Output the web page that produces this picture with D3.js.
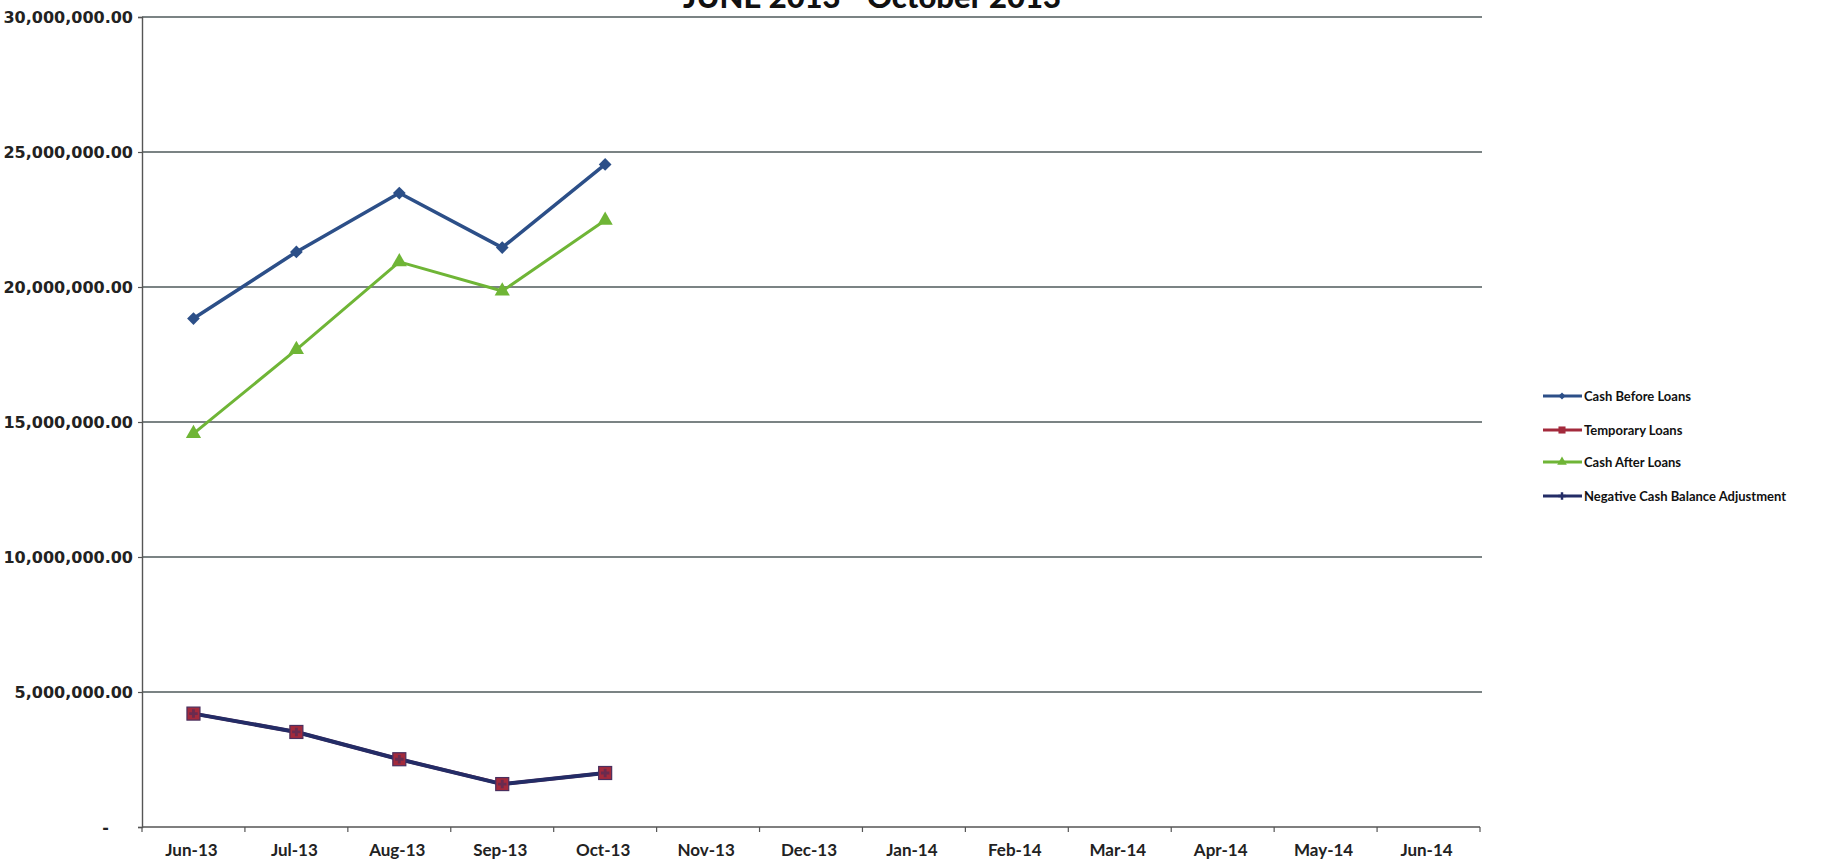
<!DOCTYPE html>
<html><head><meta charset="utf-8">
<script src="https://cdn.jsdelivr.net/npm/d3@7"></script>
<style>
html,body{margin:0;padding:0;background:#fff;}
svg{display:block;}
</style></head>
<body>
<svg id="chart" width="1835" height="864"></svg>
<script>
const title = "JUNE 2013 - October 2013";
const categories = ["Jun-13","Jul-13","Aug-13","Sep-13","Oct-13","Nov-13","Dec-13","Jan-14","Feb-14","Mar-14","Apr-14","May-14","Jun-14"];
const yTicks = [0, 5000000, 10000000, 15000000, 20000000, 25000000, 30000000];
const cashBeforeLoans = [18830000, 21300000, 23480000, 21460000, 24540000];
const temporaryLoans = [4200000, 3520000, 2510000, 1590000, 2000000];
const cashAfterLoans = [14570000, 17680000, 20930000, 19850000, 22470000];
const negativeCashBalanceAdjustment = [4200000, 3520000, 2510000, 1590000, 2000000];
const seriesNames = ["Cash Before Loans","Temporary Loans","Cash After Loans","Negative Cash Balance Adjustment"];

const svg = d3.select("#chart");
const plotLeft = 142, plotRight = 1480, plotTop = 17, plotBottom = 827;

const x = d3.scaleBand().domain(categories).range([plotLeft, plotRight]);
const y = d3.scaleLinear().domain([0, 30000000]).range([plotBottom, plotTop]);
const fmt = v => v === 0 ? "-" : d3.format(",.2f")(v);

// gridlines
svg.append("g").selectAll("line").data(yTicks.filter(d => d > 0)).join("line")
  .attr("x1", plotLeft).attr("x2", plotRight + 2)
  .attr("y1", d => y(d)).attr("y2", d => y(d))
  .attr("stroke", "#4f5a5b").attr("stroke-width", 1.5);

// y axis
const yAxis = d3.axisLeft(y).tickValues(yTicks).tickFormat(fmt).tickSize(4).tickPadding(5);
const gy = svg.append("g").attr("transform", `translate(${plotLeft},0)`).call(yAxis);
gy.select(".domain").attr("stroke", "#555").attr("stroke-width", 1.4);
gy.selectAll(".tick line").attr("stroke", "#555").attr("stroke-width", 1.2);
gy.selectAll(".tick text").attr("font-family", "'DejaVu Sans', sans-serif").attr("font-size", 16)
  .attr("font-weight", "bold").attr("fill", "#222");
gy.selectAll(".tick text").filter(d => d === 0).attr("dx", -24);

// x axis
const gx = svg.append("g").attr("transform", `translate(0,${plotBottom})`);
gx.append("line").attr("x1", plotLeft).attr("x2", plotRight).attr("y1", 0).attr("y2", 0)
  .attr("stroke", "#555").attr("stroke-width", 1.4);
const boundaries = categories.map(c => x(c)).concat([x(categories[categories.length-1]) + x.bandwidth()]);
gx.selectAll("line.tk").data(boundaries).join("line").attr("class","tk")
  .attr("x1", d => d).attr("x2", d => d).attr("y1", 0).attr("y2", 5)
  .attr("stroke", "#555").attr("stroke-width", 1.2);
gx.selectAll("text").data(categories).join("text")
  .attr("x", d => x(d) + x.bandwidth()/2 - 2).attr("y", 29)
  .attr("text-anchor", "middle")
  .attr("font-family", "Lato, sans-serif").attr("font-weight", "bold").attr("font-size", 17)
  .attr("fill", "#222").text(d => d);

// title
svg.append("text").attr("x", 872).attr("y", 8).attr("text-anchor", "middle")
  .attr("font-family", "Lato, sans-serif").attr("font-weight", "900").attr("font-size", 31)
  .attr("fill", "#111").text(title);

const cx = i => x(categories[i]) + x.bandwidth()/2;
const line = d3.line().x((d, i) => cx(i)).y(d => y(d));

const colBlue = "#2c4f88", colRed = "#a32a3c", colGreen = "#6fb536", colNavy = "#232c66";

// Cash Before Loans
svg.append("path").datum(cashBeforeLoans).attr("d", line).attr("fill","none")
  .attr("stroke", colBlue).attr("stroke-width", 3.5).attr("stroke-linejoin","round");
svg.append("g").selectAll("path").data(cashBeforeLoans).join("path")
  .attr("d", d3.symbol(d3.symbolSquare, 81)())
  .attr("transform", (d,i) => `translate(${cx(i)},${y(d)}) rotate(45)`).attr("fill", colBlue);

// Temporary Loans
svg.append("path").datum(temporaryLoans).attr("d", line).attr("fill","none")
  .attr("stroke", colRed).attr("stroke-width", 3.5);

// Cash After Loans
svg.append("path").datum(cashAfterLoans).attr("d", line).attr("fill","none")
  .attr("stroke", colGreen).attr("stroke-width", 3).attr("stroke-linejoin","round");
svg.append("g").selectAll("path").data(cashAfterLoans).join("path")
  .attr("d", d3.symbol(d3.symbolTriangle, 100)())
  .attr("transform", (d,i) => `translate(${cx(i)},${y(d)})`).attr("fill", colGreen);

// Negative Cash Balance Adjustment
svg.append("path").datum(negativeCashBalanceAdjustment).attr("d", line).attr("fill","none")
  .attr("stroke", colNavy).attr("stroke-width", 4).attr("stroke-linejoin","round");
svg.append("g").selectAll("rect").data(temporaryLoans).join("rect")
  .attr("x", (d,i) => cx(i) - 6.5).attr("y", d => y(d) - 6.5).attr("width", 13).attr("height", 13)
  .attr("fill", colRed).attr("stroke", "#4a2f5e").attr("stroke-width", 1.2);
svg.append("g").selectAll("path").data(negativeCashBalanceAdjustment).join("path")
  .attr("d", d3.symbol(d3.symbolCross, 40)())
  .attr("transform", (d,i) => `translate(${cx(i)},${y(d)})`).attr("fill", colNavy).attr("opacity", 0.45);

// legend
const legendY = [396, 430, 462, 496];
const legendCol = [colBlue, colRed, colGreen, colNavy];
const lg = svg.append("g");
seriesNames.forEach((name, i) => {
  const ly = legendY[i];
  lg.append("line").attr("x1", 1543).attr("x2", 1582).attr("y1", ly).attr("y2", ly)
    .attr("stroke", legendCol[i]).attr("stroke-width", 3);
  let m;
  if (i === 0) m = lg.append("path").attr("d", d3.symbol(d3.symbolSquare, 25)()).attr("transform", `translate(1562,${ly}) rotate(45)`);
  else if (i === 1) m = lg.append("path").attr("d", d3.symbol(d3.symbolSquare, 50)()).attr("transform", `translate(1562,${ly})`);
  else if (i === 2) m = lg.append("path").attr("d", d3.symbol(d3.symbolTriangle, 40)()).attr("transform", `translate(1562,${ly})`);
  else m = lg.append("path").attr("d", d3.symbol(d3.symbolCross, 30)()).attr("transform", `translate(1562,${ly})`);
  m.attr("fill", legendCol[i]);
  lg.append("text").attr("x", 1584).attr("y", ly).attr("dy", "0.35em")
    .attr("font-family", "Lato, sans-serif").attr("font-weight", "bold").attr("font-size", 13)
    .attr("fill", "#111").text(name);
});
</script>
</body></html>
